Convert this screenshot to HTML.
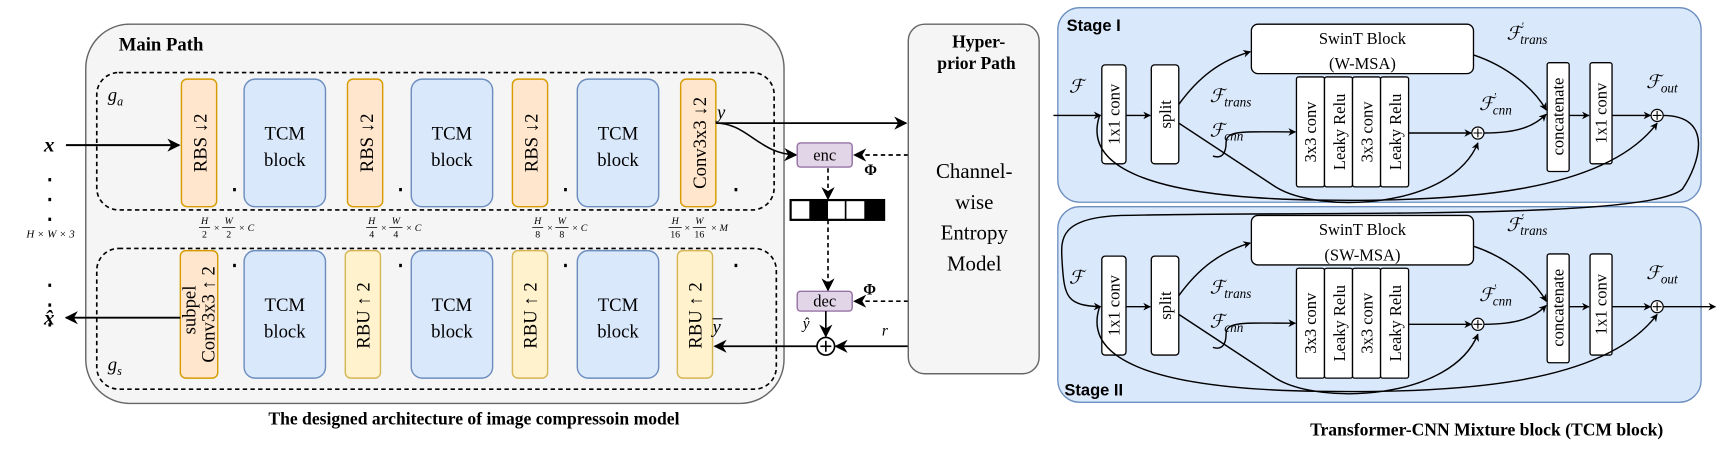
<!DOCTYPE html>
<html><head><meta charset="utf-8"><style>
html,body{margin:0;padding:0;background:#fff;}
svg{display:block;}
text{font-family:"Liberation Serif",serif;}
.s{font-family:"Liberation Sans",sans-serif;}
</style></head><body>
<svg width="1722" height="454" viewBox="0 0 1566 413" preserveAspectRatio="none" xmlns="http://www.w3.org/2000/svg">
<defs>
<marker id="a" viewBox="0 0 10 10" refX="9" refY="5" markerWidth="7" markerHeight="7" orient="auto-start-reverse" markerUnits="userSpaceOnUse"><path d="M0,0 L10,5 L0,10 L3,5 z" fill="#000"/></marker>
<marker id="b" viewBox="0 0 10 10" refX="9" refY="5" markerWidth="12" markerHeight="12" orient="auto" markerUnits="userSpaceOnUse"><path d="M0,0 L10,5 L0,10 L3,5 z" fill="#000"/></marker>
</defs>
<!-- Main path -->
<rect x="78" y="22" width="635" height="345" rx="40" fill="#f5f5f5" stroke="#666" stroke-width="1.3"/>
<text x="108" y="46" font-size="17" font-weight="bold">Main Path</text>
<rect x="88" y="66" width="616" height="125" rx="20" fill="none" stroke="#000" stroke-width="1.5" stroke-dasharray="4,3"/>
<rect x="88" y="226" width="618" height="128" rx="20" fill="none" stroke="#000" stroke-width="1.5" stroke-dasharray="4,3"/>
<text x="98" y="92" font-size="17" font-style="italic">g<tspan font-size="11" dy="4">a</tspan></text>
<text x="98" y="337" font-size="17" font-style="italic">g<tspan font-size="11" dy="4">s</tspan></text>
<g stroke-width="1.3">
<rect x="165" y="72" width="32" height="116" rx="5" fill="#ffe6cc" stroke="#d79b00"/>
<rect x="222" y="72" width="74" height="116" rx="10" fill="#dae8fc" stroke="#6c8ebf"/>
<rect x="316" y="72" width="32" height="116" rx="5" fill="#ffe6cc" stroke="#d79b00"/>
<rect x="374" y="72" width="74" height="116" rx="10" fill="#dae8fc" stroke="#6c8ebf"/>
<rect x="466" y="72" width="32" height="116" rx="5" fill="#ffe6cc" stroke="#d79b00"/>
<rect x="525" y="72" width="74" height="116" rx="10" fill="#dae8fc" stroke="#6c8ebf"/>
<rect x="619" y="72" width="32" height="116" rx="5" fill="#ffe6cc" stroke="#d79b00"/>
<rect x="164" y="228" width="34" height="116" rx="5" fill="#ffe6cc" stroke="#d79b00"/>
<rect x="222" y="228" width="74" height="116" rx="10" fill="#dae8fc" stroke="#6c8ebf"/>
<rect x="314" y="228" width="32" height="116" rx="5" fill="#fff2cc" stroke="#d6b656"/>
<rect x="374" y="228" width="74" height="116" rx="10" fill="#dae8fc" stroke="#6c8ebf"/>
<rect x="466" y="228" width="32" height="116" rx="5" fill="#fff2cc" stroke="#d6b656"/>
<rect x="525" y="228" width="74" height="116" rx="10" fill="#dae8fc" stroke="#6c8ebf"/>
<rect x="616" y="228" width="32" height="116" rx="5" fill="#fff2cc" stroke="#d6b656"/>
</g>
<g font-size="17" text-anchor="middle">
<text x="259" y="127">TCM</text><text x="259" y="151">block</text>
<text x="411" y="127">TCM</text><text x="411" y="151">block</text>
<text x="562" y="127">TCM</text><text x="562" y="151">block</text>
<text x="259" y="283">TCM</text><text x="259" y="307">block</text>
<text x="411" y="283">TCM</text><text x="411" y="307">block</text>
<text x="562" y="283">TCM</text><text x="562" y="307">block</text>
<text transform="translate(188,130) rotate(-90)">RBS ↓2</text>
<text transform="translate(339,130) rotate(-90)">RBS ↓2</text>
<text transform="translate(489,130) rotate(-90)">RBS ↓2</text>
<text transform="translate(642,130) rotate(-90)">Conv3x3 ↓2</text>
<text transform="translate(638,287) rotate(-90)">RBU ↑ 2</text>
<text transform="translate(488,287) rotate(-90)">RBU ↑ 2</text>
<text transform="translate(336,287) rotate(-90)">RBU ↑ 2</text>
<text transform="translate(178,282) rotate(-90)">subpel</text>
<text transform="translate(195,286) rotate(-90)">Conv3x3 ↑ 2</text>
</g>
<!-- dots -->
<g fill="#000"><rect x="212" y="171" width="2.5" height="3"/><rect x="363" y="171" width="2.5" height="3"/><rect x="513" y="171" width="2.5" height="3"/><rect x="668" y="171" width="2.5" height="3"/>
<rect x="212" y="240" width="2.5" height="3"/><rect x="363" y="240" width="2.5" height="3"/><rect x="513" y="240" width="2.5" height="3"/><rect x="668" y="240" width="2.5" height="3"/>
<rect x="44" y="162" width="2.5" height="3"/><rect x="44" y="180" width="2.5" height="3"/><rect x="44" y="198" width="2.5" height="3"/>
<rect x="44" y="258" width="2.5" height="3"/><rect x="44" y="276" width="2.5" height="3"/><rect x="44" y="294" width="2.5" height="3"/></g>
<!-- fractions -->
<g font-size="9" font-style="italic" text-anchor="middle">
<g transform="translate(180,0)"><text x="6" y="204">H</text><line x1="1" y1="207" x2="11" y2="207" stroke="#000" stroke-width="0.7"/><text x="6" y="216" font-style="normal">2</text><text x="17" y="210">×</text><text x="28" y="204">W</text><line x1="22" y1="207" x2="34" y2="207" stroke="#000" stroke-width="0.7"/><text x="28" y="216" font-style="normal">2</text><text x="44" y="210">× C</text></g>
<g transform="translate(332,0)"><text x="6" y="204">H</text><line x1="1" y1="207" x2="11" y2="207" stroke="#000" stroke-width="0.7"/><text x="6" y="216" font-style="normal">4</text><text x="17" y="210">×</text><text x="28" y="204">W</text><line x1="22" y1="207" x2="34" y2="207" stroke="#000" stroke-width="0.7"/><text x="28" y="216" font-style="normal">4</text><text x="44" y="210">× C</text></g>
<g transform="translate(483,0)"><text x="6" y="204">H</text><line x1="1" y1="207" x2="11" y2="207" stroke="#000" stroke-width="0.7"/><text x="6" y="216" font-style="normal">8</text><text x="17" y="210">×</text><text x="28" y="204">W</text><line x1="22" y1="207" x2="34" y2="207" stroke="#000" stroke-width="0.7"/><text x="28" y="216" font-style="normal">8</text><text x="44" y="210">× C</text></g>
<g transform="translate(608,0)"><text x="6" y="204">H</text><line x1="0" y1="207" x2="12" y2="207" stroke="#000" stroke-width="0.7"/><text x="6" y="216" font-style="normal">16</text><text x="17" y="210">×</text><text x="28" y="204">W</text><line x1="22" y1="207" x2="34" y2="207" stroke="#000" stroke-width="0.7"/><text x="28" y="216" font-style="normal">16</text><text x="46" y="210">× M</text></g>
<text x="46" y="216" font-size="10">H × W × 3</text>
</g>
<text x="40" y="138" font-size="19" font-style="italic" font-weight="bold">x</text>
<line x1="60" y1="132" x2="163" y2="132" stroke="#000" stroke-width="1.8" marker-end="url(#b)"/>
<text x="40" y="295" font-size="19" font-style="italic" font-weight="bold">x̂</text>
<line x1="164" y1="289" x2="60" y2="289" stroke="#000" stroke-width="1.8" marker-end="url(#b)"/>
<!-- middle -->
<text x="652" y="108" font-size="17" font-style="italic">y</text>
<line x1="651" y1="112" x2="824" y2="112" stroke="#000" stroke-width="1.6" marker-end="url(#b)"/>
<path d="M651,112 C680,112 690,140 724,141" fill="none" stroke="#000" stroke-width="1.4" marker-end="url(#b)"/>
<rect x="725" y="130" width="50" height="22" rx="3" fill="#e1d5e7" stroke="#9673a6" stroke-width="1.3"/>
<text x="750" y="146" font-size="15" text-anchor="middle">enc</text>
<line x1="826" y1="141" x2="777" y2="141" stroke="#000" stroke-width="1.5" stroke-dasharray="4,3" marker-end="url(#b)"/>
<text x="786" y="159" font-size="14" font-weight="bold">Φ</text>
<line x1="753" y1="153" x2="753" y2="181" stroke="#000" stroke-width="1.5" stroke-dasharray="4,3" marker-end="url(#b)"/>
<rect x="719" y="182" width="85" height="18" fill="#fff" stroke="#000" stroke-width="2"/>
<rect x="736" y="182" width="17" height="18" fill="#000"/><rect x="786" y="182" width="18" height="18" fill="#000"/>
<line x1="769" y1="182" x2="769" y2="200" stroke="#000" stroke-width="1.5"/>
<line x1="753" y1="200" x2="753" y2="264" stroke="#000" stroke-width="1.5" stroke-dasharray="4,3" marker-end="url(#b)"/>
<rect x="725" y="265" width="50" height="18" rx="3" fill="#e1d5e7" stroke="#9673a6" stroke-width="1.3"/>
<text x="750" y="279" font-size="15" text-anchor="middle">dec</text>
<line x1="826" y1="274" x2="777" y2="274" stroke="#000" stroke-width="1.5" stroke-dasharray="4,3" marker-end="url(#b)"/>
<text x="785" y="268" font-size="14" font-weight="bold">Φ</text>
<text x="730" y="299" font-size="14" font-style="italic">ŷ</text>
<line x1="751" y1="283" x2="751" y2="306" stroke="#000" stroke-width="1.5" marker-end="url(#b)"/>
<circle cx="751" cy="315" r="8" fill="#fff" stroke="#000" stroke-width="1.5"/>
<line x1="751" y1="310" x2="751" y2="320" stroke="#000" stroke-width="1.5"/><line x1="746" y1="315" x2="756" y2="315" stroke="#000" stroke-width="1.5"/>
<line x1="826" y1="315" x2="760" y2="315" stroke="#000" stroke-width="1.6" marker-end="url(#b)"/>
<text x="802" y="305" font-size="14" font-style="italic">r</text>
<line x1="743" y1="315" x2="650" y2="315" stroke="#000" stroke-width="1.6" marker-end="url(#b)"/>
<text x="648" y="303" font-size="17" font-style="italic">y</text><line x1="648" y1="290" x2="657" y2="290" stroke="#000" stroke-width="1"/>
<text x="431" y="386" font-size="16" font-weight="bold" text-anchor="middle">The designed architecture of  image compressoin model</text>
<!-- hyperprior -->
<rect x="826" y="22" width="119" height="318" rx="15" fill="#f5f5f5" stroke="#666" stroke-width="1.3"/>
<text x="890" y="43" font-size="16" font-weight="bold" text-anchor="middle">Hyper-</text>
<text x="888" y="63" font-size="16" font-weight="bold" text-anchor="middle">prior Path</text>
<g font-size="19" text-anchor="middle"><text x="886" y="162">Channel-</text><text x="886" y="190">wise</text><text x="886" y="218">Entropy</text><text x="886" y="246">Model</text></g>
<!-- Stage boxes -->
<rect x="962" y="7" width="585" height="177" rx="20" fill="#dae8fc" stroke="#6c8ebf" stroke-width="1.2"/>
<rect x="962" y="188" width="585" height="178" rx="20" fill="#dae8fc" stroke="#6c8ebf" stroke-width="1.2"/>
<text x="970" y="28" class="s" font-size="15" font-weight="bold">Stage I</text>
<text x="968" y="360" class="s" font-size="15" font-weight="bold">Stage II</text>
<g id="st">
<rect x="1138" y="22" width="202" height="45" rx="6" fill="#fff" stroke="#000" stroke-width="1.2"/>
<rect x="1002" y="59" width="22" height="90" rx="3" fill="#fff" stroke="#000" stroke-width="1.2"/>
<rect x="1047" y="59" width="25" height="90" rx="3" fill="#fff" stroke="#000" stroke-width="1.2"/>
<rect x="1179" y="70" width="25.5" height="100" rx="2" fill="#fff" stroke="#000" stroke-width="1.2"/>
<rect x="1204.5" y="70" width="25.5" height="100" rx="2" fill="#fff" stroke="#000" stroke-width="1.2"/>
<rect x="1230" y="70" width="25.5" height="100" rx="2" fill="#fff" stroke="#000" stroke-width="1.2"/>
<rect x="1255.5" y="70" width="25.5" height="100" rx="2" fill="#fff" stroke="#000" stroke-width="1.2"/>
<rect x="1407" y="57" width="20" height="99" rx="2" fill="#fff" stroke="#000" stroke-width="1.2"/>
<rect x="1446" y="57" width="20" height="92" rx="2" fill="#fff" stroke="#000" stroke-width="1.2"/>
<g font-size="15" text-anchor="middle">
<text x="1239" y="40">SwinT Block</text>
<text transform="translate(1018,104) rotate(-90)">1x1 conv</text>
<text transform="translate(1065,104) rotate(-90)">split</text>
<text transform="translate(1197,120) rotate(-90)">3x3 conv</text>
<text transform="translate(1223,120) rotate(-90)">Leaky Relu</text>
<text transform="translate(1248,120) rotate(-90)">3x3 conv</text>
<text transform="translate(1274,120) rotate(-90)">Leaky Relu</text>
<text transform="translate(1422,106) rotate(-90)">concatenate</text>
<text transform="translate(1461,103) rotate(-90)">1x1 conv</text>
</g>
<g fill="none" stroke="#000" stroke-width="1.3">
<line x1="1024" y1="105" x2="1046" y2="105" marker-end="url(#a)"/>
<path d="M1072,95 C1090,70 1110,55 1137,47" marker-end="url(#a)"/>
<path d="M1072,112 L1160,170 C1200,195 1320,190 1344,130" marker-end="url(#a)"/>
<path d="M1103,142 C1112,145 1115,138 1115,130 C1115,118 1130,120 1178,120" marker-end="url(#a)"/>
<line x1="1281" y1="121" x2="1338" y2="121" marker-end="url(#a)"/>
<path d="M1350,121 C1380,121 1395,115 1406,104" marker-end="url(#a)"/>
<path d="M1340,50 C1370,60 1395,80 1406,100" marker-end="url(#a)"/>
<line x1="1427" y1="105" x2="1445" y2="105" marker-end="url(#a)"/>
<line x1="1466" y1="105" x2="1501" y2="105" marker-end="url(#a)"/>
<path d="M1000,105 C985,150 1040,180 1200,182 C1330,184 1460,175 1507,112" marker-end="url(#a)"/>
</g>
<circle cx="1344" cy="121" r="5.5" fill="#fff" stroke="#000" stroke-width="1.1"/>
<path d="M1344,117v8M1340,121h8" stroke="#000" stroke-width="1"/>
<circle cx="1507" cy="105" r="5.5" fill="#fff" stroke="#000" stroke-width="1.1"/>
<path d="M1507,101v8M1503,105h8" stroke="#000" stroke-width="1"/>
<g font-style="italic" font-family="Liberation Serif,serif">
<text x="1100" y="93" font-size="17">ℱ<tspan font-size="12" dy="4">trans</tspan></text>
<text x="1100" y="124" font-size="17">ℱ<tspan font-size="12" dy="4">cnn</tspan></text>
<text x="1345" y="100" font-size="17">ℱ<tspan font-size="10" dy="-9">′</tspan><tspan font-size="12" dy="13" dx="-3">cnn</tspan></text>
<text x="1370" y="36" font-size="17">ℱ<tspan font-size="10" dy="-9">′</tspan><tspan font-size="12" dy="13" dx="-3">trans</tspan></text>
<text x="1497" y="80" font-size="17">ℱ<tspan font-size="12" dy="4">out</tspan></text>
<text x="972" y="84" font-size="17">ℱ</text>
</g>
</g>
<text x="1239" y="63" font-size="15" text-anchor="middle">(W-MSA)</text>
<use href="#st" transform="translate(0,174)"/>
<text x="1239" y="237" font-size="15" text-anchor="middle">(SW-MSA)</text>
<line x1="958" y1="105" x2="1001" y2="105" stroke="#000" stroke-width="1.3" marker-end="url(#a)"/>
<path d="M1512,105 C1560,105 1545,150 1530,172 C1500,200 1200,192 1020,196 C960,198 965,220 966,240 C968,270 970,278 1001,279" fill="none" stroke="#000" stroke-width="1.3" marker-end="url(#a)"/>
<line x1="1512" y1="279" x2="1560" y2="279" stroke="#000" stroke-width="1.3" marker-end="url(#a)"/>
<text x="1352" y="396" font-size="16" font-weight="bold" text-anchor="middle">Transformer-CNN Mixture block (TCM block)</text>
</svg>
</body></html>
